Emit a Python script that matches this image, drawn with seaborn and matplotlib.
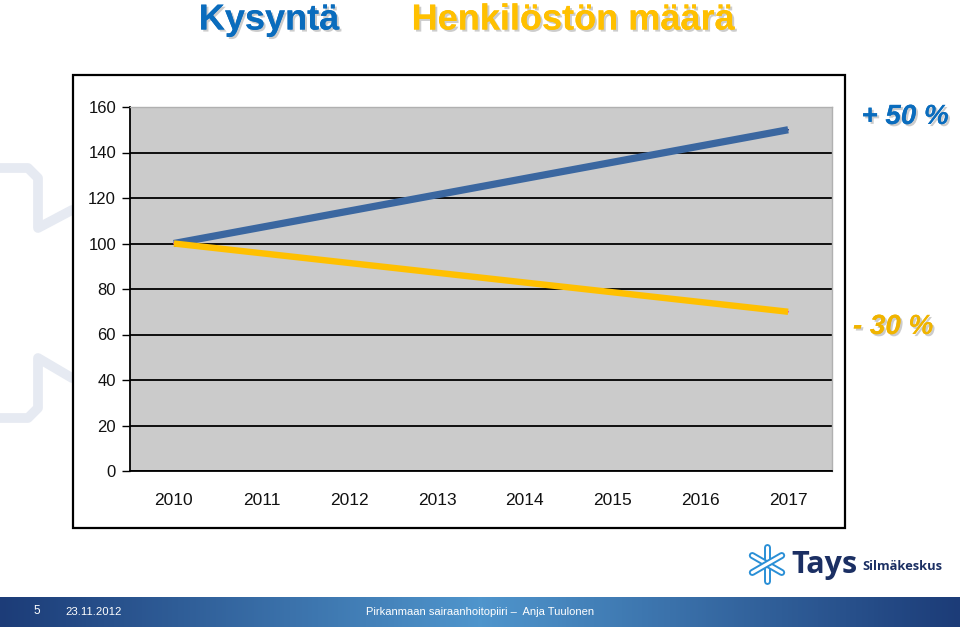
import numpy as np
import pandas as pd
import matplotlib
matplotlib.use("Agg")
import matplotlib.pyplot as plt
import matplotlib.patheffects as pe
from matplotlib.patches import Rectangle
from matplotlib.colors import LinearSegmentedColormap
import seaborn as sns

# data
years = [2010, 2011, 2012, 2013, 2014, 2015, 2016, 2017]
demand_years = [2010, 2017]
demand = [100, 150]
staff_years = [2010, 2017]
staff = [100, 70]
y_ticks = [0, 20, 40, 60, 80, 100, 120, 140, 160]

sns.set_theme(style="white")
plt.rcParams['font.family'] = ['Liberation Sans', 'DejaVu Sans']

W, H = 960, 627
fig = plt.figure(figsize=(9.6, 6.27), dpi=100)
fig.patch.set_facecolor("white")

def fx(px):
    return px / W

def fy(py):
    return 1 - py / H

# faint watermark at the left
wm = fig.add_axes([0, 0, 1, 1], zorder=-5)
wm.set_xlim(0, W)
wm.set_ylim(H, 0)
wm.axis("off")
wm.plot([0, 28, 38, 38, 72], [168, 168, 178, 228, 210], color="#e6eaf2", linewidth=7, solid_capstyle="round")
wm.plot([0, 28, 38, 38, 72], [418, 418, 408, 358, 378], color="#e6eaf2", linewidth=7, solid_capstyle="round")
# chart frame
wm.add_patch(Rectangle((73, 75), 772, 453, facecolor="white", edgecolor="black",
                       linewidth=1.6, zorder=10))

ax = fig.add_axes([fx(130), fy(471), fx(832) - fx(130), fy(107) - fy(471)], zorder=2)
ax.set_facecolor("#cbcbcb")

df_d = pd.DataFrame({"year": [years.index(y) for y in demand_years], "value": demand})
df_s = pd.DataFrame({"year": [years.index(y) for y in staff_years], "value": staff})

# thin underlying series (as in the original)
sns.lineplot(data=df_d, x="year", y="value", ax=ax, color="#1a237e", linewidth=1.2, zorder=3)
sns.lineplot(data=df_s, x="year", y="value", ax=ax, color="#ff3399", linewidth=1.2, zorder=3)
sns.lineplot(data=df_d, x="year", y="value", ax=ax, color="#3b67a0", linewidth=5.2,
             zorder=4, solid_capstyle="butt")
sns.lineplot(data=df_s, x="year", y="value", ax=ax, color="#ffc000", linewidth=4.6,
             zorder=5, solid_capstyle="butt")

ax.set_xlim(-0.5, len(years) - 0.5)
ax.set_ylim(0, 160)
ax.set_yticks(y_ticks)
ax.set_yticklabels([str(v) for v in y_ticks], fontsize=12)
ax.set_xticks(range(len(years)))
ax.set_xticklabels([str(y) for y in years], fontsize=12.5)
ax.set_xlabel("")
ax.set_ylabel("")
ax.grid(axis="y", color="black", linewidth=1.3)
ax.set_axisbelow(True)
ax.tick_params(axis="y", left=True, length=6, width=1, color="black", pad=4, labelcolor="#111111")
ax.tick_params(axis="x", bottom=False, pad=10, labelcolor="#111111")
for s in ["top", "right"]:
    ax.spines[s].set_color("#b0b0b0")
    ax.spines[s].set_linewidth(1)
ax.spines["left"].set_color("black")
ax.spines["left"].set_linewidth(1.3)
ax.spines["bottom"].set_color("black")
ax.spines["bottom"].set_linewidth(1.3)

shadow = [pe.withSimplePatchShadow(offset=(1.5, -1.5), shadow_rgbFace="#9a9a9a", alpha=0.5), pe.Normal()]
narrow = ['Liberation Sans Narrow', 'Liberation Sans', 'DejaVu Sans']

# titles
fig.text(fx(269), fy(20), "Kysyntä", color="#0a6cbd", fontsize=26, fontweight="bold",
         family=narrow, ha="center", va="center", path_effects=shadow)
fig.text(fx(573), fy(20), "Henkilöstön määrä", color="#ffc000", fontsize=26, fontweight="bold",
         family=narrow, ha="center", va="center", path_effects=shadow)

# percentage annotations
fig.text(fx(905), fy(117), "+ 50 %", color="#0a6cbd", fontsize=20, fontweight="bold",
         style="italic", ha="center", va="center", path_effects=shadow)
fig.text(fx(893), fy(327), "- 30 %", color="#f0b400", fontsize=20, fontweight="bold",
         style="italic", ha="center", va="center", path_effects=shadow)

# footer band with gradient
band = fig.add_axes([0, 0, 1, fy(597)])
grad = np.concatenate([np.linspace(0, 1, 240), np.linspace(1, 0, 240)])[None, :]
cmap = LinearSegmentedColormap.from_list("band", ["#1c3c78", "#4f95cc"])
band.imshow(grad, aspect="auto", cmap=cmap, extent=[0, 1, 0, 1])
band.axis("off")
fig.text(fx(33), fy(611), "5", color="white", fontsize=8.5, family=narrow, va="center")
fig.text(fx(65), fy(612), "23.11.2012", color="white", fontsize=8.2, family=narrow, va="center")
fig.text(fx(480), fy(612), "Pirkanmaan sairaanhoitopiiri \u2013  Anja Tuulonen", color="white",
         fontsize=8, family=narrow, ha="center", va="center")

# logo
lg = fig.add_axes([0, 0, 1, 1], zorder=5)
lg.set_xlim(0, W)
lg.set_ylim(H, 0)
lg.axis("off")
cx, cy = 767, 564
for ang in [90, 30, -30]:
    a = np.deg2rad(ang)
    lg.plot([cx - 17 * np.cos(a), cx + 17 * np.cos(a)], [cy - 17 * np.sin(a), cy + 17 * np.sin(a)],
            color="#2a8fd6", linewidth=5, solid_capstyle="round")
    lg.plot([cx - 17 * np.cos(a), cx + 17 * np.cos(a)], [cy - 17 * np.sin(a), cy + 17 * np.sin(a)],
            color="white", linewidth=2.2, solid_capstyle="round")
lg.text(791, 565, "Tays", color="#1b2f63", fontsize=22, fontweight="bold", va="center",
        family=['Open Sans', 'DejaVu Sans'])
lg.text(862, 567, "Silmäkeskus", color="#1b2f63", fontsize=9.3, fontweight="bold", va="center",
        family=['Open Sans', 'DejaVu Sans'])

fig.savefig("out.png", dpi=100)
